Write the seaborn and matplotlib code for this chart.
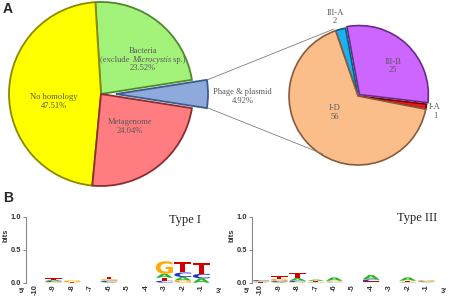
import matplotlib
matplotlib.use('Agg')
import matplotlib.pyplot as plt
import seaborn as sns
from matplotlib.textpath import TextPath
from matplotlib.patches import PathPatch
from matplotlib.font_manager import FontProperties
from matplotlib.transforms import Affine2D

# ---- data: panel A ----
source_labels = ['Phage & plasmid', 'Bacteria', 'No homology', 'Metagenome']
source_pct = [4.92, 23.52, 47.51, 24.04]
source_colors = ['#8eaadc', '#a3f27a', '#ffff00', '#ff7c80']
source_edges = ['#3d5a8a', '#4e8a2c', '#8a8a00', '#8a2d30']

crispr_labels = ['I-A', 'III-B', 'III-A', 'I-D']
crispr_counts = [1, 25, 2, 56]
crispr_colors = ['#e8191e', '#cc66ff', '#1cb0ec', '#fbbd8a']
crispr_edges = ['#7a0000', '#6a2a8a', '#0a5a7a', '#8a5a3a']

# ---- data: panel B (bits per base, positions -10 .. -1) ----
positions = ['-10', '-9', '-8', '-7', '-6', '-5', '-4', '-3', '-2', '-1']
type1_A = [0, 0.02, 0, 0, 0.01, 0, 0, 0.06, 0.05, 0.065]
type1_C = [0, 0.015, 0, 0, 0.02, 0, 0, 0.03, 0.07, 0.07]
type1_G = [0, 0.01, 0.03, 0, 0.025, 0, 0, 0.19, 0.035, 0]
type1_T = [0, 0.02, 0.005, 0, 0.035, 0, 0, 0.045, 0.16, 0.16]

type3_A = [0.008, 0.01, 0.04, 0.02, 0.05, 0, 0.065, 0, 0.05, 0.005]
type3_C = [0.015, 0.015, 0.02, 0.005, 0.005, 0, 0.03, 0, 0.005, 0.01]
type3_G = [0.012, 0.035, 0.01, 0.01, 0.015, 0, 0.005, 0, 0.01, 0.02]
type3_T = [0.005, 0.035, 0.08, 0.012, 0.01, 0, 0.015, 0, 0.015, 0.005]

letter_colors = {'A': '#22b81e', 'C': '#2233cc', 'G': '#ffa90a', 'T': '#d40000'}

sns.set_style('white')
plt.rcParams['font.family'] = ['Liberation Serif', 'DejaVu Sans']

W, H = 454, 297
fig = plt.figure(figsize=(W / 100, H / 100), dpi=100)

# whole-figure axes in pixel units for the pies
ax = fig.add_axes([0, 0, 1, 1])


def iy(y):
    return H - y


ax.pie(source_pct, colors=source_colors, startangle=-source_pct[0] / 100 * 180,
       center=(101, iy(94)), radius=92, explode=[15, 0, 0, 0],
       wedgeprops=dict(linewidth=1.3))
for w, ec in zip(ax.patches[-4:], source_edges):
    w.set_edgecolor(ec)

ax.pie(crispr_counts, colors=crispr_colors,
       startangle=-11.07, center=(358, iy(96)), radius=69,
       explode=[0, 2, 0, 0], wedgeprops=dict(linewidth=1.2))
for w, ec in zip(ax.patches[-4:], crispr_edges):
    w.set_edgecolor(ec)

ax.set_xlim(0, W)
ax.set_ylim(0, H)
ax.set_aspect('equal')
ax.axis('off')

# connector lines
ax.plot([207, 334], [iy(80), iy(29)], color='#7f7f7f', lw=0.6)
ax.plot([208, 323], [iy(108), iy(154)], color='#7f7f7f', lw=0.6)

lab = dict(ha='center', va='center', fontsize=6.1, color='#595959')
ax.text(54, iy(97), 'No homology', **lab)
ax.text(54, iy(106), f'{source_pct[2]:.2f}%', **lab)
ax.text(143, iy(51), 'Bacteria', **lab)
ax.text(143, iy(68), f'{source_pct[1]:.2f}%', **lab)
ax.text(130, iy(122), 'Metagenome', **lab)
ax.text(130, iy(131), f'{source_pct[3]:.2f}%', **lab)
ax.text(242, iy(92), 'Phage & plasmid', **lab)
ax.text(243, iy(101), f'{source_pct[0]:.2f}%', **lab)

# "(exclude Microcystis sp.)" with the genus in italics
parts = [('(exclude ', 'normal'), ('Microcystis', 'italic'), (' sp.)', 'normal')]
renderer = fig.canvas.get_renderer()
texts = []
for s, st in parts:
    t = ax.text(0, iy(59.5), s, ha='left', va='center', fontsize=6.1,
                color='#595959', style=st)
    texts.append(t)
widths = [t.get_window_extent(renderer).width for t in texts]
x0 = 143 - sum(widths) / 2
for t, wd in zip(texts, widths):
    t.set_x(x0)
    x0 += wd

ax.text(335, iy(13), 'III-A', **lab)
ax.text(335, iy(21), str(crispr_counts[2]), **lab)
ax.text(393, iy(62), 'III-B', **lab)
ax.text(393, iy(70), str(crispr_counts[1]), **lab)
ax.text(435, iy(107), 'I-A', **lab)
ax.text(435, iy(116), str(crispr_counts[0]), **lab)
ax.text(335, iy(108), 'I-D', **lab)
ax.text(335, iy(117), str(crispr_counts[3]), **lab)

fig.text(8 / W, 1 - 9 / H, 'A', fontsize=10, fontweight='bold',
         family='Liberation Sans', ha='center', va='center')
fig.text(8 / W, 1 - 198 / H, 'B', fontsize=10, fontweight='bold',
         family='Liberation Sans', ha='center', va='center')

# ---- sequence logos ----
fp = FontProperties(family='DejaVu Sans', weight='bold')
tick_kw = dict(fontsize=5.4, fontweight='bold', family='Liberation Sans', color='#333333')


def draw_letter(a, ch, x, y, w, h, color):
    tp = TextPath((0, 0), ch, size=1, prop=fp)
    bb = tp.get_extents()
    t = (Affine2D().translate(-bb.x0, -bb.y0)
         .scale(w / bb.width, h / bb.height)
         .translate(x - w / 2, y))
    a.add_patch(PathPatch(t.transform_path(tp), fc=color, ec='none'))


def draw_logo(a, cols, title, title_xy):
    for i in range(len(positions)):
        stack = sorted((cols[b][i], b) for b in 'ACGT')
        y = 0
        for h, b in stack:
            if h > 0:
                draw_letter(a, b, i + 1, y, 0.92, h, letter_colors[b])
                y += h
    a.set_xlim(0.5, 11.0)
    a.set_ylim(0, 1.0)
    a.set_yticks([0, 0.5, 1.0])
    a.set_yticklabels(['0.0', '0.5', '1.0'], **tick_kw)
    a.set_xticks(range(1, len(positions) + 1))
    a.set_xticklabels(positions, rotation=90, **tick_kw)
    a.tick_params(axis='y', length=2.5, width=0.6, color='#777777', pad=0.8, left=True)
    a.tick_params(axis='x', length=0, pad=1)
    sns.despine(ax=a, bottom=True)
    a.spines['left'].set_color('#888888')
    a.spines['left'].set_linewidth(0.8)
    tr = a.get_xaxis_transform()
    a.text(0.27, -0.14, "5'", transform=tr, ha='center', va='center', **tick_kw)
    a.text(10.95, -0.14, "3'", transform=tr, ha='center', va='center', **tick_kw)
    a.text(-0.1, 0.72, 'bits', transform=a.transAxes, rotation=90, ha='center',
           va='center', **tick_kw)
    a.text(title_xy[0], title_xy[1], title, transform=a.transAxes, ha='center',
           va='center', fontsize=9, color='#222222')
    a.patch.set_alpha(0)


ax1 = fig.add_axes([25.75 / W, (H - 282.7) / H, 194 / W, 66 / H])
draw_logo(ax1, {'A': type1_A, 'C': type1_C, 'G': type1_G, 'T': type1_T},
          'Type I', ((185 - 25.75) / 194, (282.7 - 220) / 66))

ax2 = fig.add_axes([251.5 / W, (H - 282.7) / H, 193 / W, 66 / H])
draw_logo(ax2, {'A': type3_A, 'C': type3_C, 'G': type3_G, 'T': type3_T},
          'Type III', ((417 - 251.5) / 193, (282.7 - 218) / 66))

fig.savefig('out.png', dpi=100)
